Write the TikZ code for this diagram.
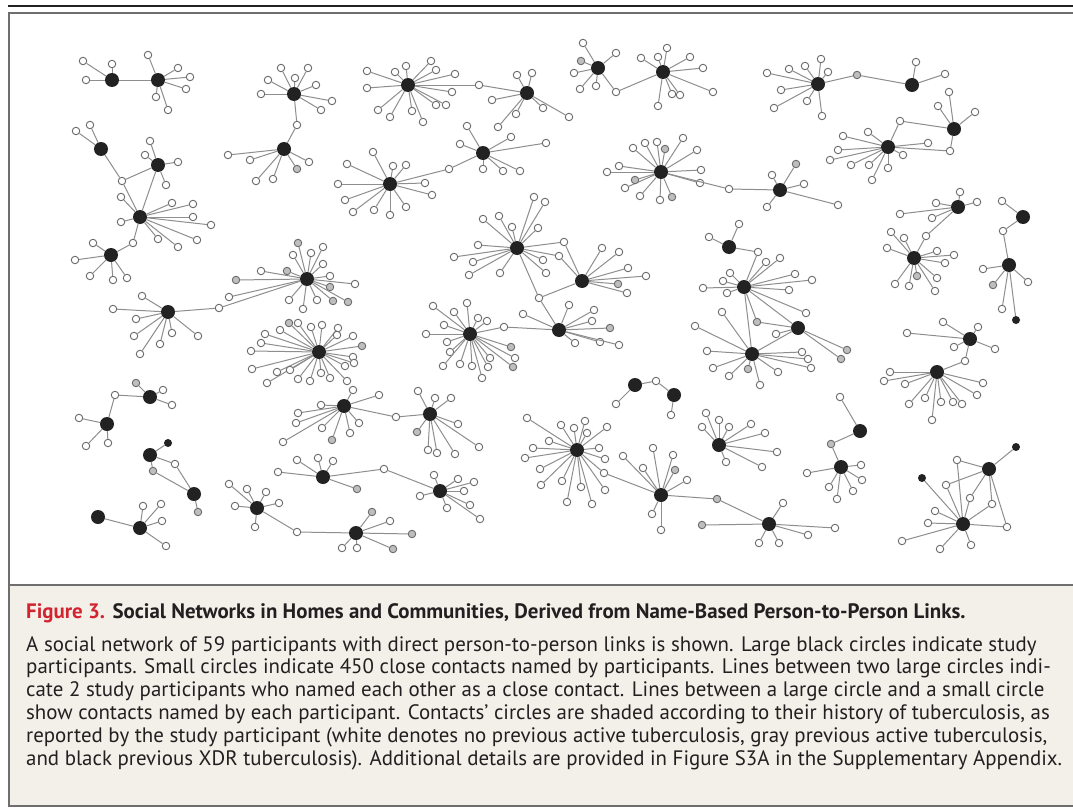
\documentclass[tikz,border=0pt]{standalone}
\usepackage{fontspec}
\setmainfont{PT Sans}

\definecolor{edgegray}{HTML}{8E8E8E}
\definecolor{rimgray}{HTML}{6A6A6A}
\definecolor{tbgray}{HTML}{BEBEBE}
\definecolor{hubblack}{HTML}{222222}
\definecolor{capbg}{HTML}{F3F0EA}
\definecolor{figred}{HTML}{D2232F}
\definecolor{framegray}{HTML}{6E6E6E}
\definecolor{captext}{HTML}{231F20}

\tikzset{
  hubnode/.style={circle, fill=hubblack, inner sep=0pt, minimum size=14pt},
  wl/.style={circle, draw=rimgray, fill=white, line width=0.9pt, inner sep=0pt, minimum size=7.5pt},
  gl/.style={wl, fill=tbgray},
  xl/.style={circle, fill=hubblack, inner sep=0pt, minimum size=8pt},
  link/.style={draw=edgegray, line width=1pt},
  capline/.style={anchor=base west, inner sep=0pt, text=captext, font=\fontsize{20.9}{23}\selectfont},
}

% a participant with its white contacts
\newcommand\hub[4]{%
  \node[hubnode] (#1) at (#2,#3) {};
  \foreach \lx/\ly [count=\i] in {#4} {%
    \node[wl] (#1w\i) at (\lx,\ly) {};
    \draw[link] (#1) -- (#1w\i);%
  }}
% gray contacts (previous active TB) of a participant
\newcommand\grays[2]{%
  \foreach \lx/\ly [count=\i] in {#2} {%
    \node[gl] (#1g\i) at (\lx,\ly) {};
    \draw[link] (#1) -- (#1g\i);%
  }}
% a contact named by several participants
\newcommand\shared[5]{%
  \node[#4] (#1) at (#2,#3) {};
  \foreach \h in {#5} {\draw[link] (\h) -- (#1);}}
% two participants who named each other
\newcommand\tie[2]{\draw[link] (#1) -- (#2);}

\begin{document}
\begin{tikzpicture}[x=1pt,y=-1pt]
\useasboundingbox (0,0) rectangle (1073,808);
\fill[white] (0,0) rectangle (1073,808);

% frame and caption panel
\fill[capbg] (9,585) rectangle (1073,806);
\draw[hubblack, line width=2pt] (8,6) -- (1073,6);
\draw[framegray, line width=1.6pt] (1073,13) -- (9,13) -- (9,806) -- (1073,806);
\draw[framegray, line width=1.6pt] (9,585) -- (1073,585);

% ---- participants and their contacts ----
\hub{pA}{112}{80}{83/61, 86/80, 112/64}
\hub{pB}{158}{80}{148/55, 178/68, 190/77, 186/89, 156/97, 168/110}
\hub{pC}{294}{94}{281/68, 295/78, 308/68, 268/80, 316/85, 261/94, 332/101, 321/110}
\hub{pD}{284}{149}{228/155, 250/160, 256/181, 273/179, 309/162}
\grays{pD}{297/169}
\hub{pE}{101}{149}{76/131, 90/125}
\hub{pF}{158}{165}{150/141, 145/155, 178/162, 166/185}
\hub{pG}{140}{217}{121/197, 172/203, 193/204, 193/217, 211/225, 197/240, 178/247, 158/239, 121/222}
\hub{pH}{111}{255}{93/243, 75/260, 90/276, 113/280, 127/278}
\hub{pI}{168}{312}{142/296, 113/309, 136/319, 134/336, 140/354, 160/344, 172/333, 198/336}
\hub{pJ}{307}{279}{293/255, 311/253, 323/247, 323/264, 261/271, 229/297, 330/276, 355/284, 317/300, 303/309, 289/300}
\grays{pJ}{298/243, 287/271, 236/280, 330/287, 333/301, 348/302}
\hub{pK}{319}{352}{298/323, 311/327, 322/325, 338/328, 353/336, 353/357, 354/363, 347/381, 321/373, 310/381, 298/379, 267/383, 277/372, 252/369, 251/351, 261/343, 265/334, 280/330, 337/335, 345/366, 330/378, 290/370}
\grays{pK}{289/323, 362/346}
\hub{pL}{408}{85}{367/71, 367/88, 395/72, 406/66, 431/61, 436/70, 455/74, 452/92, 446/105, 436/105, 378/110, 390/117, 412/111, 423/122}
\hub{pM}{527}{93}{517/75, 532/73, 492/100, 516/114, 543/108, 498/127, 569/117}
\hub{pN}{598}{68}{583/43, 616/53, 574/73, 580/89, 596/86}
\grays{pN}{581/61}
\hub{pO}{663}{72}{641/58, 658/57, 667/48, 690/57, 703/68, 672/94, 680/95, 658/106, 713/92}
\hub{pP}{483}{153}{467/126, 460/144, 511/137, 546/143, 483/169, 503/171, 520/171}
\hub{pQ}{390}{184}{373/152, 393/166, 406/165, 425/183, 432/195, 347/164, 338/184, 345/200, 353/212, 374/210, 390/215, 406/207}
\hub{pR}{661}{172}{607/172, 619/166, 633/148, 645/143, 657/142, 683/138, 697/150, 701/170, 640/196, 700/183, 660/200, 625/188}
\grays{pR}{665/149, 635/180, 672/197}
\hub{pS}{780}{190}{772/175, 804/184, 838/205, 767/207}
\grays{pS}{796/164}
\hub{pT}{818}{84}{767/73, 789/69, 805/66, 821/59, 828/72, 781/90, 807/101, 774/108, 822/116}
\hub{pU}{912}{85}{916/62, 945/74}
\hub{pV}{888}{147}{843/136, 868/132, 838/150, 830/160, 851/165, 869/165, 888/168, 903/155, 872/180, 928/143}
\hub{pW}{954}{129}{949/92, 938/106, 975/112}
\hub{pX}{729}{247}{739/224, 709/237}
\hub{pY}{744}{287}{703/288, 723/281, 727/293, 730/273, 766/262, 780/258, 795/274, 812/280, 789/290, 806/313}
\hub{pZ}{798}{328}{776/334}
\grays{pZ}{847/350, 841/359}
\hub{qA}{752}{354}{707/351, 713/368, 729/376, 760/385, 778/372, 802/352, 808/359, 811/368, 722/312, 695/326}
\grays{qA}{748/369}
\hub{qB}{958}{207}{936/203, 960/192, 977/202, 900/214, 932/218}
\hub{qC}{914}{258}{891/232, 904/238, 887/248, 937/251, 954/255, 945/263, 895/284, 909/286, 937/278, 935/291}
\grays{qC}{917/276}
\hub{qD}{1023}{217}{1002/201}
\hub{qE}{1009}{265}{983/269, 1028/282, 1002/309}
\grays{qE}{993/285}
\hub{qF}{970}{339}{907/333, 943/322, 978/327, 954/347, 995/349}
\hub{qG}{937}{372}{884/381, 905/384, 983/383, 909/404, 925/398, 941/402, 953/402, 962/404, 977/395, 932/420, 890/372}
\hub{qH}{860}{431}{840/397}
\hub{qI}{841}{467}{807/473, 861/465, 862/480, 829/487, 853/491, 837/499}
\hub{qJ}{989}{469}{}
\hub{qK}{963}{524}{935/511, 928/523, 902/541, 940/549, 971/545}
\hub{qL}{769}{524}{783/503, 808/535, 835/528, 759/543, 779/543}
\grays{qL}{702/525}
\hub{qM}{719}{445}{706/413, 719/420, 729/427, 751/424, 765/433, 777/452, 762/467, 726/462, 702/427}
\hub{qN}{430}{414}{418/391, 435/398, 451/398, 458/424, 479/447, 428/450, 437/453, 455/454}
\grays{qN}{417/432}
\hub{qO}{344}{406}{321/405, 298/413, 296/423, 322/428, 283/442, 350/433, 353/390, 379/395, 359/423}
\grays{qO}{332/440}
\hub{qP}{440}{491}{434/475, 458/479, 474/482, 464/491, 470/505, 447/508, 420/496, 480/519}
\hub{qQ}{323}{477}{297/460, 318/458, 333/461, 278/472}
\grays{qQ}{357/489}
\hub{qR}{356}{533}{390/521, 357/548, 342/548}
\grays{qR}{372/512, 412/534, 393/549}
\hub{qS}{257}{508}{229/484, 247/489, 266/492, 279/503, 235/506, 255/527}
\hub{qT}{577}{450}{527/418, 561/425, 574/428, 585/421, 587/433, 607/427, 599/448, 605/459, 605/490, 592/504, 581/487, 567/502, 562/481, 541/485, 540/469, 525/458, 533/448, 549/441}
\hub{qU}{661}{495}{623/456, 643/468, 653/448, 673/455, 687/480, 652/514, 661/530}
\grays{qU}{675/470}
\hub{qV}{635}{385}{616/404}
\hub{qW}{674}{395}{671/415}
\hub{qX}{150}{397}{163/390, 172/405}
\grays{qX}{136/383}
\hub{qY}{107}{424}{79/418, 86/446, 108/443}
\hub{qZ}{150}{455}{}
\hub{rA}{194}{494}{}
\grays{rA}{198/512}
\hub{rB}{98}{517}{}
\hub{rC}{140}{528}{143/506, 161/504, 162/521, 166/546}
\hub{rD}{517}{248}{534/197, 545/202, 512/227, 538/228, 483/219, 499/216, 478/245, 454/257, 473/262, 469/275, 500/273, 543/260, 546/273}
\hub{rE}{582}{281}{602/248, 619/252, 628/268, 646/276, 627/293}
\grays{rE}{618/284}
\hub{rF}{559}{330}{523/314, 569/305, 594/310, 592/321, 575/343, 600/342, 619/345}
\grays{rF}{610/328}
\hub{rG}{470}{334}{433/306, 454/312, 467/303, 478/318, 487/321, 444/325, 426/334, 447/342, 450/352, 443/366, 460/364, 472/366, 488/367, 490/358, 515/358, 482/378}
\grays{rG}{511/347, 513/367}

% ---- contacts named by more than one participant ----
\shared{sC}{297}{125}{wl}{pC,pD}
\shared{sE}{122}{181}{wl}{pE,pF,pG}
\shared{sG}{133}{243}{wl}{pG,pH}
\shared{sI}{219}{308}{wl}{pI,pJ}
\shared{sL}{479}{85}{wl}{pL,pM}
\shared{sN}{616}{92}{wl}{pN,pO}
\shared{sP}{449}{169}{wl}{pP,pQ}
\shared{sR}{729}{189}{wl}{pR,pS}
\shared{sT}{857}{75}{gl}{pT,pU}
\shared{sVa}{900}{121}{wl}{pV,pW}
\shared{sVb}{950}{151}{wl}{pV,pW}
\shared{sX}{758}{252}{wl}{pX,pY}
\shared{sY}{757}{322}{gl}{pY,pZ}
\shared{sB}{926}{236}{wl}{qB,qC}
\shared{sD}{1003}{231}{wl}{qD,qE}
\shared{sF}{965}{361}{wl}{qF,qG}
\shared{sH}{831}{444}{gl}{qH,qI}
\shared{sJa}{957}{460}{wl}{qJ,qK}
\shared{sJb}{946}{485}{wl}{qJ,qK}
\shared{sJc}{970}{498}{wl}{qJ,qK}
\shared{sJd}{992}{504}{wl}{qJ,qK}
\shared{sJe}{1007}{527}{wl}{qJ,qK}
\shared{sL2}{717}{499}{gl}{qL,qU}
\shared{sN2}{396}{417}{wl}{qN,qO}
\shared{sP2}{384}{469}{wl}{qP,qQ}
\shared{sR2}{297}{532}{wl}{qR,qS}
\shared{sT2}{604}{473}{wl}{qT,qU}
\shared{sV}{656}{381}{wl}{qV,qW}
\shared{sX2}{115}{395}{wl}{qX,qY}
\shared{sZa}{175}{464}{wl}{qZ,rA}
\shared{sZb}{153}{471}{gl}{qZ,rA}
\shared{sDa}{564}{242}{wl}{rD,rE}
\shared{sDb}{559}{256}{wl}{rD,rE}
\shared{sDc}{539}{298}{wl}{rD,rE,rF}
\shared{sF2}{504}{327}{wl}{rF,rG}

% contacts with previous XDR tuberculosis
\shared{xE}{1016}{320}{xl}{qE}
\shared{xJ}{1016}{447}{xl}{qJ}
\shared{xK}{922}{478}{xl}{qK}
\shared{xZ}{168}{443}{xl}{qZ}

% participants who named each other
\tie{pA}{pB}
\tie{pF}{pG}
\tie{pY}{qA}
\tie{pZ}{qA}
\tie{pY}{pZ}
\tie{rB}{rC}

% ---- caption ----
\node[capline] (cap0) at (26,618) {\textbf{\color{figred}Figure 3.} \textbf{Social Networks in Homes and Communities, Derived from Name-Based Person-to-Person Links.}};
\node[capline] (cap1) at (26,651) {A social network of 59 participants with direct person-to-person links is shown. Large black circles indicate study};
\node[capline] (cap2) at (26,673.8) {participants. Small circles indicate 450 close contacts named by participants. Lines between two large circles indi-};
\node[capline] (cap3) at (26,696.6) {cate 2 study participants who named each other as a close contact. Lines between a large circle and a small circle};
\node[capline] (cap4) at (26,719.4) {show contacts named by each participant. Contacts’ circles are shaded according to their history of tuberculosis, as};
\node[capline] (cap5) at (26,742.2) {reported by the study participant (white denotes no previous active tuberculosis, gray previous active tuberculosis,};
\node[capline] (cap6) at (26,765) {and black previous XDR tuberculosis). Additional details are provided in Figure S3A in the Supplementary Appendix.};
\end{tikzpicture}
\end{document}
